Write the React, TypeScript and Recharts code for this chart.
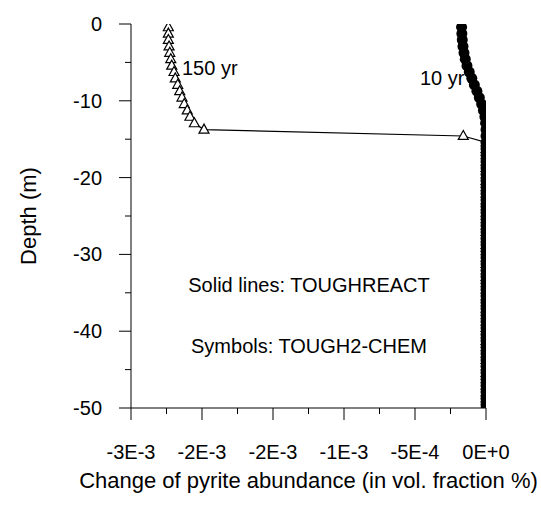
import React from "react";
import { ScatterChart, Scatter, XAxis, YAxis } from "recharts";

// depth of grid-block centres (m)
const depths = [
  -0.42, -1.25, -2.08, -2.92, -3.75, -4.58, -5.42, -6.25, -7.08, -7.92,
  -8.75, -9.58, -10.42, -11.25, -12.08, -12.92, -13.75, -14.58, -15.42, -16.25,
  -17.08, -17.92, -18.75, -19.58, -20.42, -21.25, -22.08, -22.92, -23.75, -24.58,
  -25.42, -26.25, -27.08, -27.92, -28.75, -29.58, -30.42, -31.25, -32.08, -32.92,
  -33.75, -34.58, -35.42, -36.25, -37.08, -37.92, -38.75, -39.58, -40.42, -41.25,
  -42.08, -42.92, -43.75, -44.58, -45.42, -46.25, -47.08, -47.92, -48.75, -49.58,
];

// change of pyrite abundance after 150 years
const pyrite150yr = [
  -0.002237, -0.002237, -0.002237, -0.002232, -0.002227, -0.00222, -0.002213, -0.002197, -0.002188, -0.002171,
  -0.002157, -0.002141, -0.002125, -0.002104, -0.002085, -0.002054, -0.001986, -0.00016, 0, 0,
  0, 0, 0, 0, 0, 0, 0, 0, 0, 0,
  0, 0, 0, 0, 0, 0, 0, 0, 0, 0,
  0, 0, 0, 0, 0, 0, 0, 0, 0, 0,
  0, 0, 0, 0, 0, 0, 0, 0, 0, 0,
];

// change of pyrite abundance after 10 years
const pyrite10yr = [
  -0.000172, -0.00017, -0.000167, -0.000162, -0.000155, -0.000146, -0.000134, -0.000118, -0.0001, -0.000082,
  -0.000064, -0.000047, -0.000031, -0.000018, -0.000008, -0.000003, 0, 0, 0, 0,
  0, 0, 0, 0, 0, 0, 0, 0, 0, 0,
  0, 0, 0, 0, 0, 0, 0, 0, 0, 0,
  0, 0, 0, 0, 0, 0, 0, 0, 0, 0,
  0, 0, 0, 0, 0, 0, 0, 0, 0, 0,
];

const xMajorTicks = [-0.0025, -0.002, -0.0015, -0.001, -0.0005, 0];
const xTickLabels = ["-3E-3", "-2E-3", "-2E-3", "-1E-3", "-5E-4", "0E+0"];
const xMinorTicks = [-0.00225, -0.00175, -0.00125, -0.00075, -0.00025];
const yMajorTicks = [0, -10, -20, -30, -40, -50];
const yMinorTicks = [-5, -15, -25, -35, -45];

const FONT = "'Liberation Sans', Arial, sans-serif";

const data150 = depths.map((d, i) => ({ x: pyrite150yr[i], y: d }));
const data10 = depths.map((d, i) => ({ x: pyrite10yr[i], y: d }));

function XTick(props: any) {
  const { x, y, payload } = props;
  const i = xMajorTicks.indexOf(payload.value);
  if (i < 0) {
    return <line x1={x} x2={x} y1={y} y2={y + 6} stroke="#000" />;
  }
  return (
    <g>
      <line x1={x} x2={x} y1={y} y2={y + 12} stroke="#000" />
      <text x={x} y={y + 44} dy="0.35em" textAnchor="middle" fontSize={20} fontFamily={FONT} fill="#000">
        {xTickLabels[i]}
      </text>
    </g>
  );
}

function YTick(props: any) {
  const { x, y, payload } = props;
  const major = yMajorTicks.indexOf(payload.value) >= 0;
  if (!major) {
    return <line x1={x - 6} x2={x} y1={y} y2={y} stroke="#000" />;
  }
  return (
    <g>
      <line x1={x - 12} x2={x} y1={y} y2={y} stroke="#000" />
      <text x={x - 29} y={y} dy="0.35em" textAnchor="end" fontSize={20} fontFamily={FONT} fill="#000">
        {payload.value}
      </text>
    </g>
  );
}

function XLabel(props: any) {
  const { viewBox } = props;
  return (
    <text x={viewBox.x + viewBox.width / 2} y={viewBox.y + 72} dy="0.35em" textAnchor="middle" fontSize={22} fontFamily={FONT} fill="#000">
      Change of pyrite abundance (in vol. fraction %)
    </text>
  );
}

function YLabel(props: any) {
  const { viewBox } = props;
  const cx = 28;
  const cy = viewBox.y + viewBox.height / 2;
  return (
    <text x={cx} y={cy} dy="0.35em" textAnchor="middle" fontSize={22} fontFamily={FONT} fill="#000" transform={`rotate(-90 ${cx} ${cy})`}>
      Depth (m)
    </text>
  );
}

const triangle = (p: any) => (
  <path
    d={`M${p.cx},${p.cy - 5.5} L${p.cx - 5},${p.cy + 3.5} L${p.cx + 5},${p.cy + 3.5} Z`}
    fill="#fff"
    stroke="#000"
    strokeWidth={1.2}
  />
);

const dot = (p: any) => <circle cx={p.cx} cy={p.cy} r={5.5} fill="#000" />;

export default function App() {
  return (
    <div style={{ position: "absolute", left: 0, top: 0, width: 541, height: 505, background: "#fff" }}>
      <ScatterChart width={541} height={505} margin={{ top: 24, right: 55, bottom: 0, left: 0 }}>
        <XAxis
          type="number"
          dataKey="x"
          domain={[-0.0025, 0]}
          ticks={[...xMajorTicks, ...xMinorTicks].sort((a, b) => a - b)}
          interval={0}
          tickLine={false}
          tickSize={0}
          tickMargin={0}
          tick={<XTick />}
          axisLine={{ stroke: "#000" }}
          height={97}
          allowDataOverflow
          label={<XLabel />}
        />
        <YAxis
          type="number"
          dataKey="y"
          domain={[-50, 0]}
          ticks={[...yMajorTicks, ...yMinorTicks].sort((a, b) => a - b)}
          interval={0}
          tickLine={false}
          tickSize={0}
          tickMargin={0}
          tick={<YTick />}
          axisLine={{ stroke: "#000" }}
          width={131}
          allowDataOverflow
          label={<YLabel />}
        />
        <Scatter
          data={data150}
          line={{ stroke: "#000", strokeWidth: 1.2 }}
          lineType="joint"
          shape={triangle}
          isAnimationActive={false}
        />
        <Scatter
          data={data10}
          line={{ stroke: "#000", strokeWidth: 1.2 }}
          lineType="joint"
          shape={dot}
          isAnimationActive={false}
        />
        <text x={182} y={68} dy="0.35em" fontSize={20} fontFamily={FONT} fill="#000">150 yr</text>
        <text x={420} y={78} dy="0.35em" fontSize={20} fontFamily={FONT} fill="#000">10 yr</text>
        <text x={309} y={285} dy="0.35em" textAnchor="middle" fontSize={20} fontFamily={FONT} fill="#000">
          Solid lines: TOUGHREACT
        </text>
        <text x={309} y={346} dy="0.35em" textAnchor="middle" fontSize={20} fontFamily={FONT} fill="#000">
          Symbols: TOUGH2-CHEM
        </text>
      </ScatterChart>
    </div>
  );
}
